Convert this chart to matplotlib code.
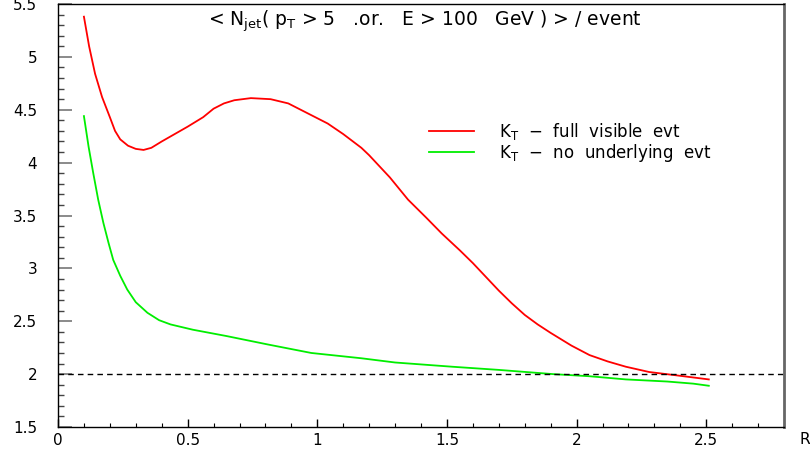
import matplotlib as mpl
import matplotlib.pyplot as plt
from matplotlib.ticker import MultipleLocator, FuncFormatter

mpl.rcParams.update(
    {
        "font.family": "DejaVu Sans",
        "axes.linewidth": 1.0,
    }
)

# cone radius R
r_full = [0.10, 0.12, 0.143, 0.17, 0.20, 0.22, 0.24, 0.27, 0.30, 0.33, 0.36, 0.40,
          0.45, 0.50, 0.56, 0.60, 0.64, 0.68, 0.744, 0.82, 0.888, 0.96, 1.04, 1.10,
          1.17, 1.20, 1.28, 1.35, 1.42, 1.48, 1.55, 1.60, 1.65, 1.70, 1.75, 1.80,
          1.85, 1.90, 1.98, 2.05, 2.12, 2.19, 2.28, 2.38, 2.51]
n_full = [5.38, 5.10, 4.84, 4.62, 4.43, 4.30, 4.22, 4.16, 4.13, 4.12, 4.14, 4.20,
          4.27, 4.34, 4.43, 4.51, 4.56, 4.59, 4.61, 4.60, 4.56, 4.47, 4.37, 4.27,
          4.14, 4.07, 3.86, 3.65, 3.48, 3.33, 3.17, 3.05, 2.92, 2.79, 2.67, 2.56,
          2.47, 2.39, 2.27, 2.18, 2.12, 2.07, 2.02, 1.99, 1.95]

r_noue = [0.10, 0.118, 0.136, 0.155, 0.175, 0.195, 0.213, 0.24, 0.267, 0.30, 0.345,
          0.39, 0.434, 0.52, 0.65, 0.81, 0.977, 1.17, 1.30, 1.52, 1.70, 1.91, 2.05,
          2.19, 2.35, 2.45, 2.51]
n_noue = [4.44, 4.15, 3.90, 3.65, 3.43, 3.24, 3.08, 2.93, 2.80, 2.68, 2.58,
          2.51, 2.47, 2.42, 2.36, 2.28, 2.20, 2.15, 2.11, 2.07, 2.04, 2.00, 1.98,
          1.95, 1.93, 1.91, 1.89]

title = r"< N$_{\rm jet}$( p$_{\rm T}$ > 5   .or.   E > 100   GeV ) > / event"
labels = [r"K$_{\rm T}$  $-$  full  visible  evt", r"K$_{\rm T}$  $-$  no  underlying  evt"]

fig = plt.figure(figsize=(8.1, 4.49), dpi=100)
ax = fig.add_axes([58 / 810, 22 / 449, 726 / 810, 423 / 449])

ax.plot(r_full, n_full, color="#ff0000", lw=1.3, label=labels[0])
ax.plot(r_noue, n_noue, color="#00ee00", lw=1.3, label=labels[1])
ax.axhline(2.0, color="black", lw=1.0, ls=(0, (4, 3)))

ax.set_xlim(0, 2.8)
ax.set_ylim(1.5, 5.5)
ax.xaxis.set_major_locator(MultipleLocator(0.5))
ax.xaxis.set_minor_locator(MultipleLocator(0.1))
ax.yaxis.set_major_locator(MultipleLocator(0.5))
ax.yaxis.set_minor_locator(MultipleLocator(0.1))
ax.xaxis.set_major_formatter(FuncFormatter(lambda v, p: f"{v:g}"))
ax.yaxis.set_major_formatter(FuncFormatter(lambda v, p: f"{v:g}"))

ax.tick_params(axis="y", which="major", direction="in", length=10, width=1.2,
               color="#777777", labelsize=11, pad=15)
ax.tick_params(axis="y", which="minor", direction="in", length=4.5, width=1.0, color="#444444")
ax.tick_params(axis="x", which="major", direction="in", length=6, width=1.0,
               labelsize=11, pad=4)
ax.tick_params(axis="x", which="minor", direction="in", length=3, width=0.8)
ax.tick_params(top=False, right=False)

ax.spines["right"].set_color("#666666")
ax.spines["right"].set_linewidth(2)

ax.text(0.505, 0.96, title, transform=ax.transAxes, ha="center", va="center", fontsize=13.5)
ax.text(1.022, -0.012, "R", transform=ax.transAxes, ha="left", va="top", fontsize=11)

ax.legend(loc="upper left", bbox_to_anchor=(0.49, 0.76), frameon=False, fontsize=12,
          handlelength=2.7, handletextpad=1.5, labelspacing=0.0)

fig.savefig("out.png", dpi=100)
